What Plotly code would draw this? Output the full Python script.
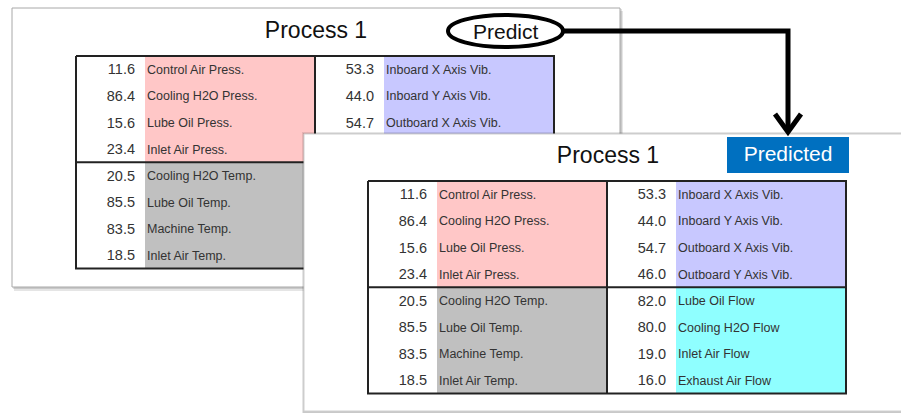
import plotly.graph_objects as go

# ---------------- data ----------------
press_values = [11.6, 86.4, 15.6, 23.4]
press_labels = ["Control Air Press.", "Cooling H2O Press.", "Lube Oil Press.", "Inlet Air Press."]
vib_values = [53.3, 44.0, 54.7, 46.0]
vib_labels = ["Inboard X Axis Vib.", "Inboard Y Axis Vib.", "Outboard X Axis Vib.", "Outboard Y Axis Vib."]
temp_values = [20.5, 85.5, 83.5, 18.5]
temp_labels = ["Cooling H2O Temp.", "Lube Oil Temp.", "Machine Temp.", "Inlet Air Temp."]
flow_values = [82.0, 80.0, 19.0, 16.0]
flow_labels = ["Lube Oil Flow", "Cooling H2O Flow", "Inlet Air Flow", "Exhaust Air Flow"]

panel_title = "Process 1"
action_label = "Predict"
result_label = "Predicted"

# ---------------- styles ----------------
FONT = "Liberation Sans, Arial, sans-serif"
PINK = "#FFC7C7"
LAV = "#C8C8FF"
GRAY = "#C0C0C0"
CYAN = "#8FFFFF"
BLUE = "#0070C0"
TXT = "#333333"

W, H = 901, 413
FRONT_LEFT, FRONT_TOP = 304, 134
fig = go.Figure()


def rect(x0, y0, x1, y1, fill, line_color=None, line_width=0):
    fig.add_trace(go.Scatter(
        x=[x0, x1, x1, x0, x0], y=[y0, y0, y1, y1, y0],
        mode="lines", fill="toself", fillcolor=fill,
        line=dict(color=line_color or "rgba(0,0,0,0)", width=line_width),
        hoverinfo="skip", showlegend=False))


def polyline(xs, ys, color, width):
    fig.add_trace(go.Scatter(x=xs, y=ys, mode="lines",
                             line=dict(color=color, width=width),
                             hoverinfo="skip", showlegend=False))


def text(xs, ys, texts, pos, size, color=TXT):
    if not texts:
        return
    fig.add_trace(go.Scatter(x=xs, y=ys, text=texts, mode="text",
                             textposition=pos,
                             textfont=dict(family=FONT, size=size, color=color),
                             hoverinfo="skip", showlegend=False))


quadrants = [
    (press_values, press_labels, PINK, 0, 0),
    (vib_values, vib_labels, LAV, 1, 0),
    (temp_values, temp_labels, GRAY, 0, 1),
    (flow_values, flow_labels, CYAN, 1, 1),
]

TW, TH = 478, 212.5
HALF = TW / 2
NUMX, COLX = 59, 69


def table(tx, ty, covered=False):
    """covered=True: skip the cell texts hidden behind the front panel."""
    rh = TH / 8
    for vals, labs, col, cx, cy in quadrants:
        x0 = tx + cx * HALF
        y0 = ty + cy * TH / 2
        rect(x0 + COLX, y0, x0 + HALF, y0 + TH / 2, col)
    polyline([tx, tx + TW, tx + TW, tx, tx], [ty, ty, ty + TH, ty + TH, ty], "#222222", 2)
    polyline([tx + HALF, tx + HALF], [ty, ty + TH], "#222222", 2)
    polyline([tx, tx + TW], [ty + TH / 2, ty + TH / 2], "#222222", 2)
    for vals, labs, col, cx, cy in quadrants:
        x0 = tx + cx * HALF
        y0 = ty + cy * TH / 2
        ys = [y0 + rh * (i + 0.5) + 1.5 for i in range(len(vals))]
        keep = [i for i in range(len(vals))
                if not covered or ys[i] + 7 < FRONT_TOP or x0 + HALF - 40 < FRONT_LEFT]
        text([x0 + NUMX] * len(keep), [ys[i] for i in keep],
             [f"{vals[i]:.1f}" for i in keep], "middle left", 14.5)
        text([x0 + COLX + 2] * len(keep), [ys[i] for i in keep],
             [labs[i] for i in keep], "middle right", 12.5)


# ---------------- back panel ----------------
rect(14, 11, 623, 291, "rgba(0,0,0,0.10)")
rect(13, 9, 622, 289, "rgba(0,0,0,0.12)")
rect(12, 8, 620, 287, "#FFFFFF", "#A8A8A8", 1)
text([316], [32], [panel_title], "middle center", 23, "#111111")
table(76, 56, covered=True)

# ---------------- front panel ----------------
rect(FRONT_LEFT - 2, FRONT_TOP - 2, 910, 414, "rgba(0,0,0,0.10)")
rect(FRONT_LEFT - 1, FRONT_TOP - 1, 910, 413, "rgba(0,0,0,0.12)")
rect(FRONT_LEFT, FRONT_TOP, 910, 411, "#FFFFFF", "#D0D0D0", 1)
text([608], [157], [panel_title], "middle center", 23, "#111111")
rect(727, 137, 849, 173, BLUE)
text([788], [155.5], [result_label], "middle center", 21, "#FFFFFF")
table(368, 181)

# ---------------- connector ----------------
polyline([563, 788, 788], [31, 31, 131], "#000000", 5)
polyline([775, 788, 801], [114, 132, 114], "#000000", 5)

fig.add_shape(type="circle", xref="x", yref="y", x0=448, x1=563, y0=15, y1=47,
              line=dict(color="#000000", width=4), fillcolor="#FFFFFF", layer="above")
fig.add_annotation(x=505.5, y=31, xref="x", yref="y", text=action_label, showarrow=False,
                   font=dict(family=FONT, size=21, color="#111111"))

fig.update_xaxes(range=[0, W], visible=False, fixedrange=True)
fig.update_yaxes(range=[H, 0], visible=False, fixedrange=True)
fig.update_layout(width=W, height=H, margin=dict(l=0, r=0, t=0, b=0),
                  paper_bgcolor="#FFFFFF", plot_bgcolor="#FFFFFF", showlegend=False)

fig.write_html("out.html", config={"displayModeBar": False},
               post_script="document.body.style.margin='0';document.body.style.overflow='hidden';")
